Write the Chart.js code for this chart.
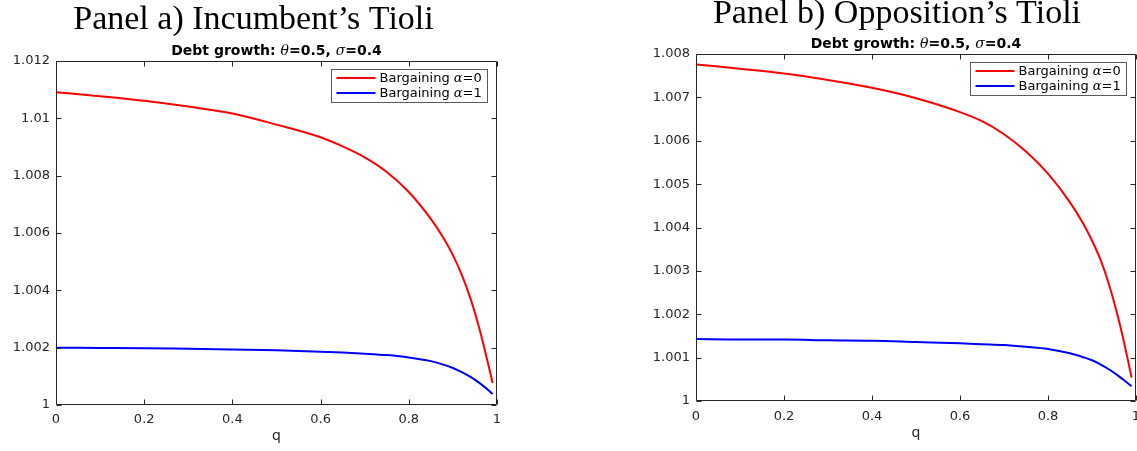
<!DOCTYPE html>
<html>
<head>
<meta charset="utf-8">
<script src="https://cdn.jsdelivr.net/npm/chart.js@4"></script>
<style>
  html, body { margin: 0; padding: 0; background: #fff; }
  #wrap { position: relative; width: 1137px; height: 451px; overflow: hidden; }
  canvas { position: absolute; left: 0; top: 0; }
</style>
</head>
<body>
<div id="wrap">
  <canvas id="panel-a" width="1137" height="451"></canvas>
  <canvas id="panel-b" width="1137" height="451"></canvas>
</div>
<script>
const qGrid = [0, 0.1, 0.2, 0.3, 0.4, 0.5, 0.6, 0.65, 0.7, 0.75, 0.8, 0.85, 0.88, 0.9, 0.92, 0.94, 0.96, 0.97, 0.98, 0.99];

// Panel a) Incumbent's Tioli
const incumbentAlpha0 = [1.01091, 1.01077, 1.01061, 1.01041, 1.01017, 1.00978, 1.00934, 1.00902, 1.00864, 1.00813, 1.00743, 1.00649, 1.00579, 1.00523, 1.00455, 1.00371, 1.00267, 1.00207, 1.00143, 1.00077];
const incumbentAlpha1 = [1.00200, 1.00199, 1.00198, 1.00196, 1.00194, 1.00191, 1.00186, 1.00183, 1.00179, 1.00174, 1.00166, 1.00153, 1.00140, 1.00129, 1.00115, 1.00098, 1.00077, 1.00065, 1.00052, 1.00038];

// Panel b) Opposition's Tioli
const oppositionAlpha0 = [1.00776, 1.00766, 1.00755, 1.00740, 1.00722, 1.00698, 1.00666, 1.00645, 1.00615, 1.00575, 1.00524, 1.00458, 1.00409, 1.00370, 1.00324, 1.00264, 1.00190, 1.00148, 1.00102, 1.00054];
const oppositionAlpha1 = [1.00143, 1.00142, 1.00142, 1.00140, 1.00139, 1.00136, 1.00133, 1.00131, 1.00129, 1.00125, 1.00120, 1.00110, 1.00101, 1.00094, 1.00084, 1.00072, 1.00058, 1.00050, 1.00042, 1.00034];

const xTicks = [0, 0.2, 0.4, 0.6, 0.8, 1];
const incumbentYTicks = [1, 1.002, 1.004, 1.006, 1.008, 1.01, 1.012];
const oppositionYTicks = [1, 1.001, 1.002, 1.003, 1.004, 1.005, 1.006, 1.007, 1.008];

const seriesLabels = ['Bargaining ', 'Bargaining '];
const seriesAlpha = ['=0', '=1'];

const SANS = '"DejaVu Sans", sans-serif';
const MATH = 'italic 13px "DejaVu Serif", serif';
const AXIS_COLOR = '#262626';

function drawParts(ctx, parts, x, y, centered) {
  const widths = parts.map(p => { ctx.font = p.font; return ctx.measureText(p.text).width; });
  const total = widths.reduce((s, w) => s + w, 0);
  let cx = centered ? x - total / 2 : x;
  parts.forEach((p, i) => {
    ctx.font = p.font;
    ctx.fillText(p.text, cx, y);
    cx += widths[i];
  });
  return total;
}

// MATLAB-like box, inward ticks, titles and legend
const matlabFrame = {
  id: 'matlabFrame',
  afterDraw(chart, args, opts) {
    const { ctx, chartArea: a, scales: { x, y } } = chart;
    const L = Math.round(a.left) + 0.5, R = Math.round(a.right) - 0.5;
    const T = Math.round(a.top) + 0.5, B = Math.round(a.bottom) - 0.5;
    ctx.save();
    ctx.strokeStyle = AXIS_COLOR;
    ctx.lineWidth = 1;
    ctx.beginPath();
    ctx.rect(L, T, R - L, B - T);
    x.ticks.forEach(t => {
      const px = Math.round(x.getPixelForValue(t.value)) + 0.5;
      ctx.moveTo(px, B); ctx.lineTo(px, B - 5);
      ctx.moveTo(px, T); ctx.lineTo(px, T + 5);
    });
    y.ticks.forEach(t => {
      const py = Math.round(y.getPixelForValue(t.value)) + 0.5;
      ctx.moveTo(L, py); ctx.lineTo(L + 5, py);
      ctx.moveTo(R, py); ctx.lineTo(R - 5, py);
    });
    ctx.stroke();

    // panel title
    ctx.fillStyle = '#000';
    ctx.textBaseline = 'alphabetic';
    ctx.textAlign = 'left';
    drawParts(ctx, [{ text: opts.title, font: '34px "Liberation Serif", serif' }], opts.titleX, opts.titleY, true);

    // axes title
    const bold = 'bold 14px ' + SANS;
    const mathBold = 'italic 14px "DejaVu Serif", serif';
    drawParts(ctx, [
      { text: 'Debt growth: ', font: bold },
      { text: 'θ', font: mathBold },
      { text: '=0.5, ', font: bold },
      { text: 'σ', font: mathBold },
      { text: '=0.4', font: bold }
    ], (a.left + a.right) / 2, a.top - 6, true);

    // legend
    const font = '13px ' + SANS;
    const entries = chart.data.datasets.map((ds, i) => [
      { text: seriesLabels[i], font },
      { text: 'α', font: MATH },
      { text: seriesAlpha[i], font }
    ]);
    const textW = Math.max(...entries.map(parts => parts.reduce((s, p) => {
      ctx.font = p.font; return s + ctx.measureText(p.text).width;
    }, 0)));
    const boxW = Math.round(48 + textW + 6);
    const boxH = 33;
    const bx = Math.round(a.right - 10 - boxW) + 0.5;
    const by = Math.round(a.top + 8) + 0.5;
    ctx.fillStyle = '#fff';
    ctx.fillRect(bx, by, boxW, boxH);
    ctx.strokeStyle = '#5a5a5a';
    ctx.strokeRect(bx, by, boxW, boxH);
    chart.data.datasets.forEach((ds, i) => {
      const ly = by + 8.5 + i * 15;
      ctx.strokeStyle = ds.borderColor;
      ctx.lineWidth = 2;
      ctx.beginPath();
      ctx.moveTo(bx + 5, ly); ctx.lineTo(bx + 44, ly);
      ctx.stroke();
      ctx.fillStyle = '#000';
      ctx.textBaseline = 'middle';
      drawParts(ctx, entries[i], bx + 48, ly + 0.5, false);
    });
    ctx.restore();
  }
};

function makePanel(id, p) {
  return new Chart(document.getElementById(id), {
    type: 'line',
    data: {
      datasets: [
        {
          label: 'Bargaining α=0',
          data: qGrid.map((q, i) => ({ x: q, y: p.alpha0[i] })),
          borderColor: '#ff0000',
          borderWidth: 2,
          pointRadius: 0,
          cubicInterpolationMode: 'monotone'
        },
        {
          label: 'Bargaining α=1',
          data: qGrid.map((q, i) => ({ x: q, y: p.alpha1[i] })),
          borderColor: '#0000ff',
          borderWidth: 2,
          pointRadius: 0,
          cubicInterpolationMode: 'monotone'
        }
      ]
    },
    options: {
      responsive: false,
      animation: false,
      events: [],
      layout: { padding: p.padding },
      plugins: {
        legend: { display: false },
        tooltip: { enabled: false },
        matlabFrame: { title: p.title, titleX: p.titleX, titleY: p.titleY }
      },
      scales: {
        x: {
          type: 'linear',
          min: 0,
          max: 1,
          afterBuildTicks: s => { s.ticks = xTicks.map(v => ({ value: v })); },
          afterFit: s => { s.height = p.xHeight; s.paddingLeft = 0; s.paddingRight = 0; },
          grid: { display: false, drawTicks: false },
          border: { display: false },
          ticks: {
            padding: p.xTickPad,
            color: AXIS_COLOR,
            font: { family: 'DejaVu Sans', size: 13 },
            maxRotation: 0,
            autoSkip: false,
            callback: v => String(+v.toFixed(1))
          },
          title: {
            display: true,
            text: 'q',
            color: AXIS_COLOR,
            font: { family: 'DejaVu Sans', size: 14 },
            padding: { top: 0, bottom: p.qPad }
          }
        },
        y: {
          min: p.yTicks[0],
          max: p.yTicks[p.yTicks.length - 1],
          afterBuildTicks: s => { s.ticks = p.yTicks.map(v => ({ value: v })); },
          afterFit: s => { s.width = p.yWidth; s.paddingTop = 0; s.paddingBottom = 0; },
          grid: { display: false, drawTicks: false },
          border: { display: false },
          ticks: {
            padding: 6,
            color: AXIS_COLOR,
            font: { family: 'DejaVu Sans', size: 13 },
            autoSkip: false,
            callback: v => String(+v.toFixed(3))
          }
        }
      }
    },
    plugins: [matlabFrame]
  });
}

makePanel('panel-a', {
  title: 'Panel a) Incumbent’s Tioli',
  titleX: 253.5, titleY: 29,
  alpha0: incumbentAlpha0, alpha1: incumbentAlpha1,
  yTicks: incumbentYTicks,
  padding: { left: 0, top: 61, right: 640, bottom: 0 },
  yWidth: 56, xHeight: 46, xTickPad: 7, qPad: 6
});

makePanel('panel-b', {
  title: 'Panel b) Opposition’s Tioli',
  titleX: 897, titleY: 23,
  alpha0: oppositionAlpha0, alpha1: oppositionAlpha1,
  yTicks: oppositionYTicks,
  padding: { left: 636, top: 54, right: 1, bottom: 0 },
  yWidth: 60, xHeight: 50, xTickPad: 8, qPad: 9
});
</script>
</body>
</html>
